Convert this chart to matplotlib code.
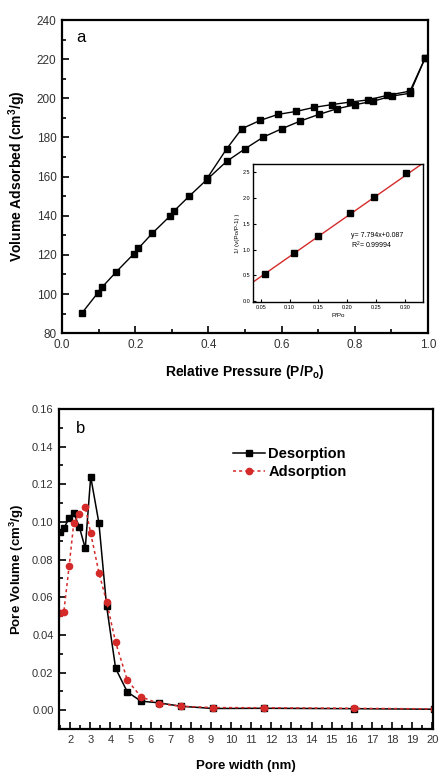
import matplotlib
matplotlib.use("Agg")
import matplotlib.pyplot as plt
from matplotlib.ticker import MultipleLocator

plt.rcParams['font.family'] = ['Liberation Sans', 'DejaVu Sans']

# (a) N2 isotherm
ads_p = [0.055, 0.097, 0.109, 0.148, 0.196, 0.209, 0.247, 0.296, 0.307, 0.347, 0.396,
         0.45, 0.50, 0.55, 0.601, 0.651, 0.702, 0.752, 0.802, 0.851, 0.902, 0.951, 0.992]
ads_v = [90.4, 100.4, 103.4, 111.3, 120.5, 123.4, 131.1, 140.0, 142.6, 149.9, 158.5,
         167.8, 174.2, 180.2, 184.5, 188.4, 191.8, 194.7, 196.8, 198.6, 201.2, 202.6, 220.5]
des_p = [0.992, 0.951, 0.888, 0.836, 0.787, 0.737, 0.689, 0.639, 0.590, 0.541, 0.4915, 0.45, 0.397]
des_v = [220.5, 203.7, 201.5, 199.2, 198.1, 196.8, 195.4, 193.3, 191.8, 188.7, 184.5, 174.2, 159.3]

# BET inset
bet_x = [0.057, 0.108, 0.150, 0.205, 0.247, 0.302]
bet_y = [0.52, 0.935, 1.256, 1.70, 2.01, 2.49]
slope, intercept = 7.794, 0.087

# (b) pore size distribution
w_des = [1.48, 1.68, 1.95, 2.18, 2.45, 2.75, 3.02, 3.43, 3.81, 4.26, 4.84, 5.52, 6.42, 7.5, 9.1, 11.66, 16.1, 20.1]
v_des = [0.0948, 0.0966, 0.102, 0.1046, 0.0975, 0.086, 0.124, 0.0993, 0.0553, 0.0222, 0.0097,
         0.0048, 0.0039, 0.0021, 0.0009, 0.0010, 0.0008, 0.0005]
w_ads = [1.48, 1.68, 1.95, 2.18, 2.45, 2.75, 3.02, 3.43, 3.81, 4.26, 4.84, 5.52, 6.42, 7.5, 9.1, 11.66, 16.1, 20.1]
v_ads = [0.0514, 0.052, 0.0767, 0.0996, 0.104, 0.108, 0.094, 0.073, 0.0576, 0.036, 0.016,
         0.0071, 0.0035, 0.0021, 0.0014, 0.0013, 0.0010, 0.0007]

red = '#d42a2a'

fig = plt.figure(figsize=(4.38, 7.73), dpi=100)

# ---- panel a ----
ax1 = fig.add_axes([0.1416, 0.569, 0.8354, 0.405])
ax1.plot(ads_p, ads_v, color='black', lw=1.0, marker='s', ms=5)
ax1.plot(des_p, des_v, color='black', lw=1.0, marker='s', ms=5)
ax1.set_xlim(0, 1.0)
ax1.set_ylim(80, 240)
ax1.xaxis.set_major_locator(MultipleLocator(0.2))
ax1.xaxis.set_minor_locator(MultipleLocator(0.1))
ax1.yaxis.set_major_locator(MultipleLocator(20))
ax1.yaxis.set_minor_locator(MultipleLocator(10))
ax1.set_xticks([0, 0.2, 0.4, 0.6, 0.8, 1.0])
ax1.set_xticklabels(['0.0', '0.2', '0.4', '0.6', '0.8', '1.0'])
ax1.tick_params(which='both', direction='in', width=1.2, labelsize=8.5, labelcolor='#333333', pad=4)
ax1.tick_params(which='major', length=5)
ax1.tick_params(which='minor', length=3)
for s in ax1.spines.values():
    s.set_linewidth(1.6)
ax1.set_xlabel('Relative Pressure (P/P$_\\mathregular{o}$)', fontsize=10, fontweight='bold', labelpad=9)
ax1.set_ylabel('Volume Adsorbed (cm$^\\mathregular{3}$/g)', fontsize=10, fontweight='bold', labelpad=6)
ax1.text(0.04, 0.93, 'a', transform=ax1.transAxes, fontsize=12)

# inset
axi = fig.add_axes([0.578, 0.609, 0.388, 0.179])
lx = [0.0366, 0.34]
ax_line = [slope * x + intercept for x in lx]
axi.plot(lx, ax_line, color=red, lw=1.0)
axi.plot(bet_x, bet_y, ls='none', marker='s', ms=4, color='black')
axi.set_xlim(0.0366, 0.332)
axi.set_ylim(-0.02, 2.66)
axi.set_xticks([0.05, 0.10, 0.15, 0.20, 0.25, 0.30])
axi.set_xticklabels(['0.05', '0.10', '0.15', '0.20', '0.25', '0.30'])
axi.set_yticks([0.0, 0.5, 1.0, 1.5, 2.0, 2.5])
axi.set_yticklabels(['0.0', '0.5', '1.0', '1.5', '2.0', '2.5'])
axi.tick_params(direction='in', length=2, width=0.8, labelsize=4, pad=2)
for s in axi.spines.values():
    s.set_linewidth(1.0)
axi.set_xlabel('P/Po', fontsize=4.5, labelpad=2)
axi.set_ylabel('1/ (v(Po/P-1) )', fontsize=4.5, labelpad=2)
axi.text(0.207, 1.27, 'y= 7.794x+0.087', fontsize=5, va='center')
axi.text(0.207, 1.08, 'R$^\\mathregular{2}$= 0.99994', fontsize=5, va='center')

# ---- panel b ----
ax2 = fig.add_axes([0.135, 0.0569, 0.854, 0.414])
ax2.plot(w_des, v_des, color='black', lw=1.1, marker='s', ms=4, label='Desorption')
ax2.plot(w_ads, v_ads, color=red, lw=1.1, ls=(0, (2, 2)), marker='o', ms=4.5,
         markeredgecolor=red, label='Adsorption')
ax2.set_xlim(1.45, 20.05)
ax2.set_ylim(-0.01, 0.16)
ax2.xaxis.set_major_locator(MultipleLocator(1))
ax2.xaxis.set_minor_locator(MultipleLocator(0.5))
ax2.yaxis.set_major_locator(MultipleLocator(0.02))
ax2.yaxis.set_minor_locator(MultipleLocator(0.01))
ax2.set_yticks([0.0, 0.02, 0.04, 0.06, 0.08, 0.10, 0.12, 0.14, 0.16])
ax2.set_yticklabels(['0.00', '0.02', '0.04', '0.06', '0.08', '0.10', '0.12', '0.14', '0.16'])
ax2.tick_params(which='both', direction='in', width=1.2, labelsize=8, labelcolor='#333333', pad=4)
ax2.tick_params(which='major', length=5)
ax2.tick_params(which='minor', length=3)
for s in ax2.spines.values():
    s.set_linewidth(1.6)
ax2.set_xlabel('Pore width (nm)', fontsize=9.5, fontweight='bold', labelpad=11)
ax2.set_ylabel('Pore Volume (cm$^\\mathregular{3}$/g)', fontsize=9.5, fontweight='bold', labelpad=4)
ax2.text(0.045, 0.925, 'b', transform=ax2.transAxes, fontsize=12)
leg = ax2.legend(loc='upper left', bbox_to_anchor=(0.45, 0.90), frameon=False,
                 prop={'weight': 'bold', 'size': 10.5}, handlelength=2.2, handletextpad=0.2,
                 labelspacing=0.3, borderaxespad=0)

fig.savefig('out.png', dpi=100)
